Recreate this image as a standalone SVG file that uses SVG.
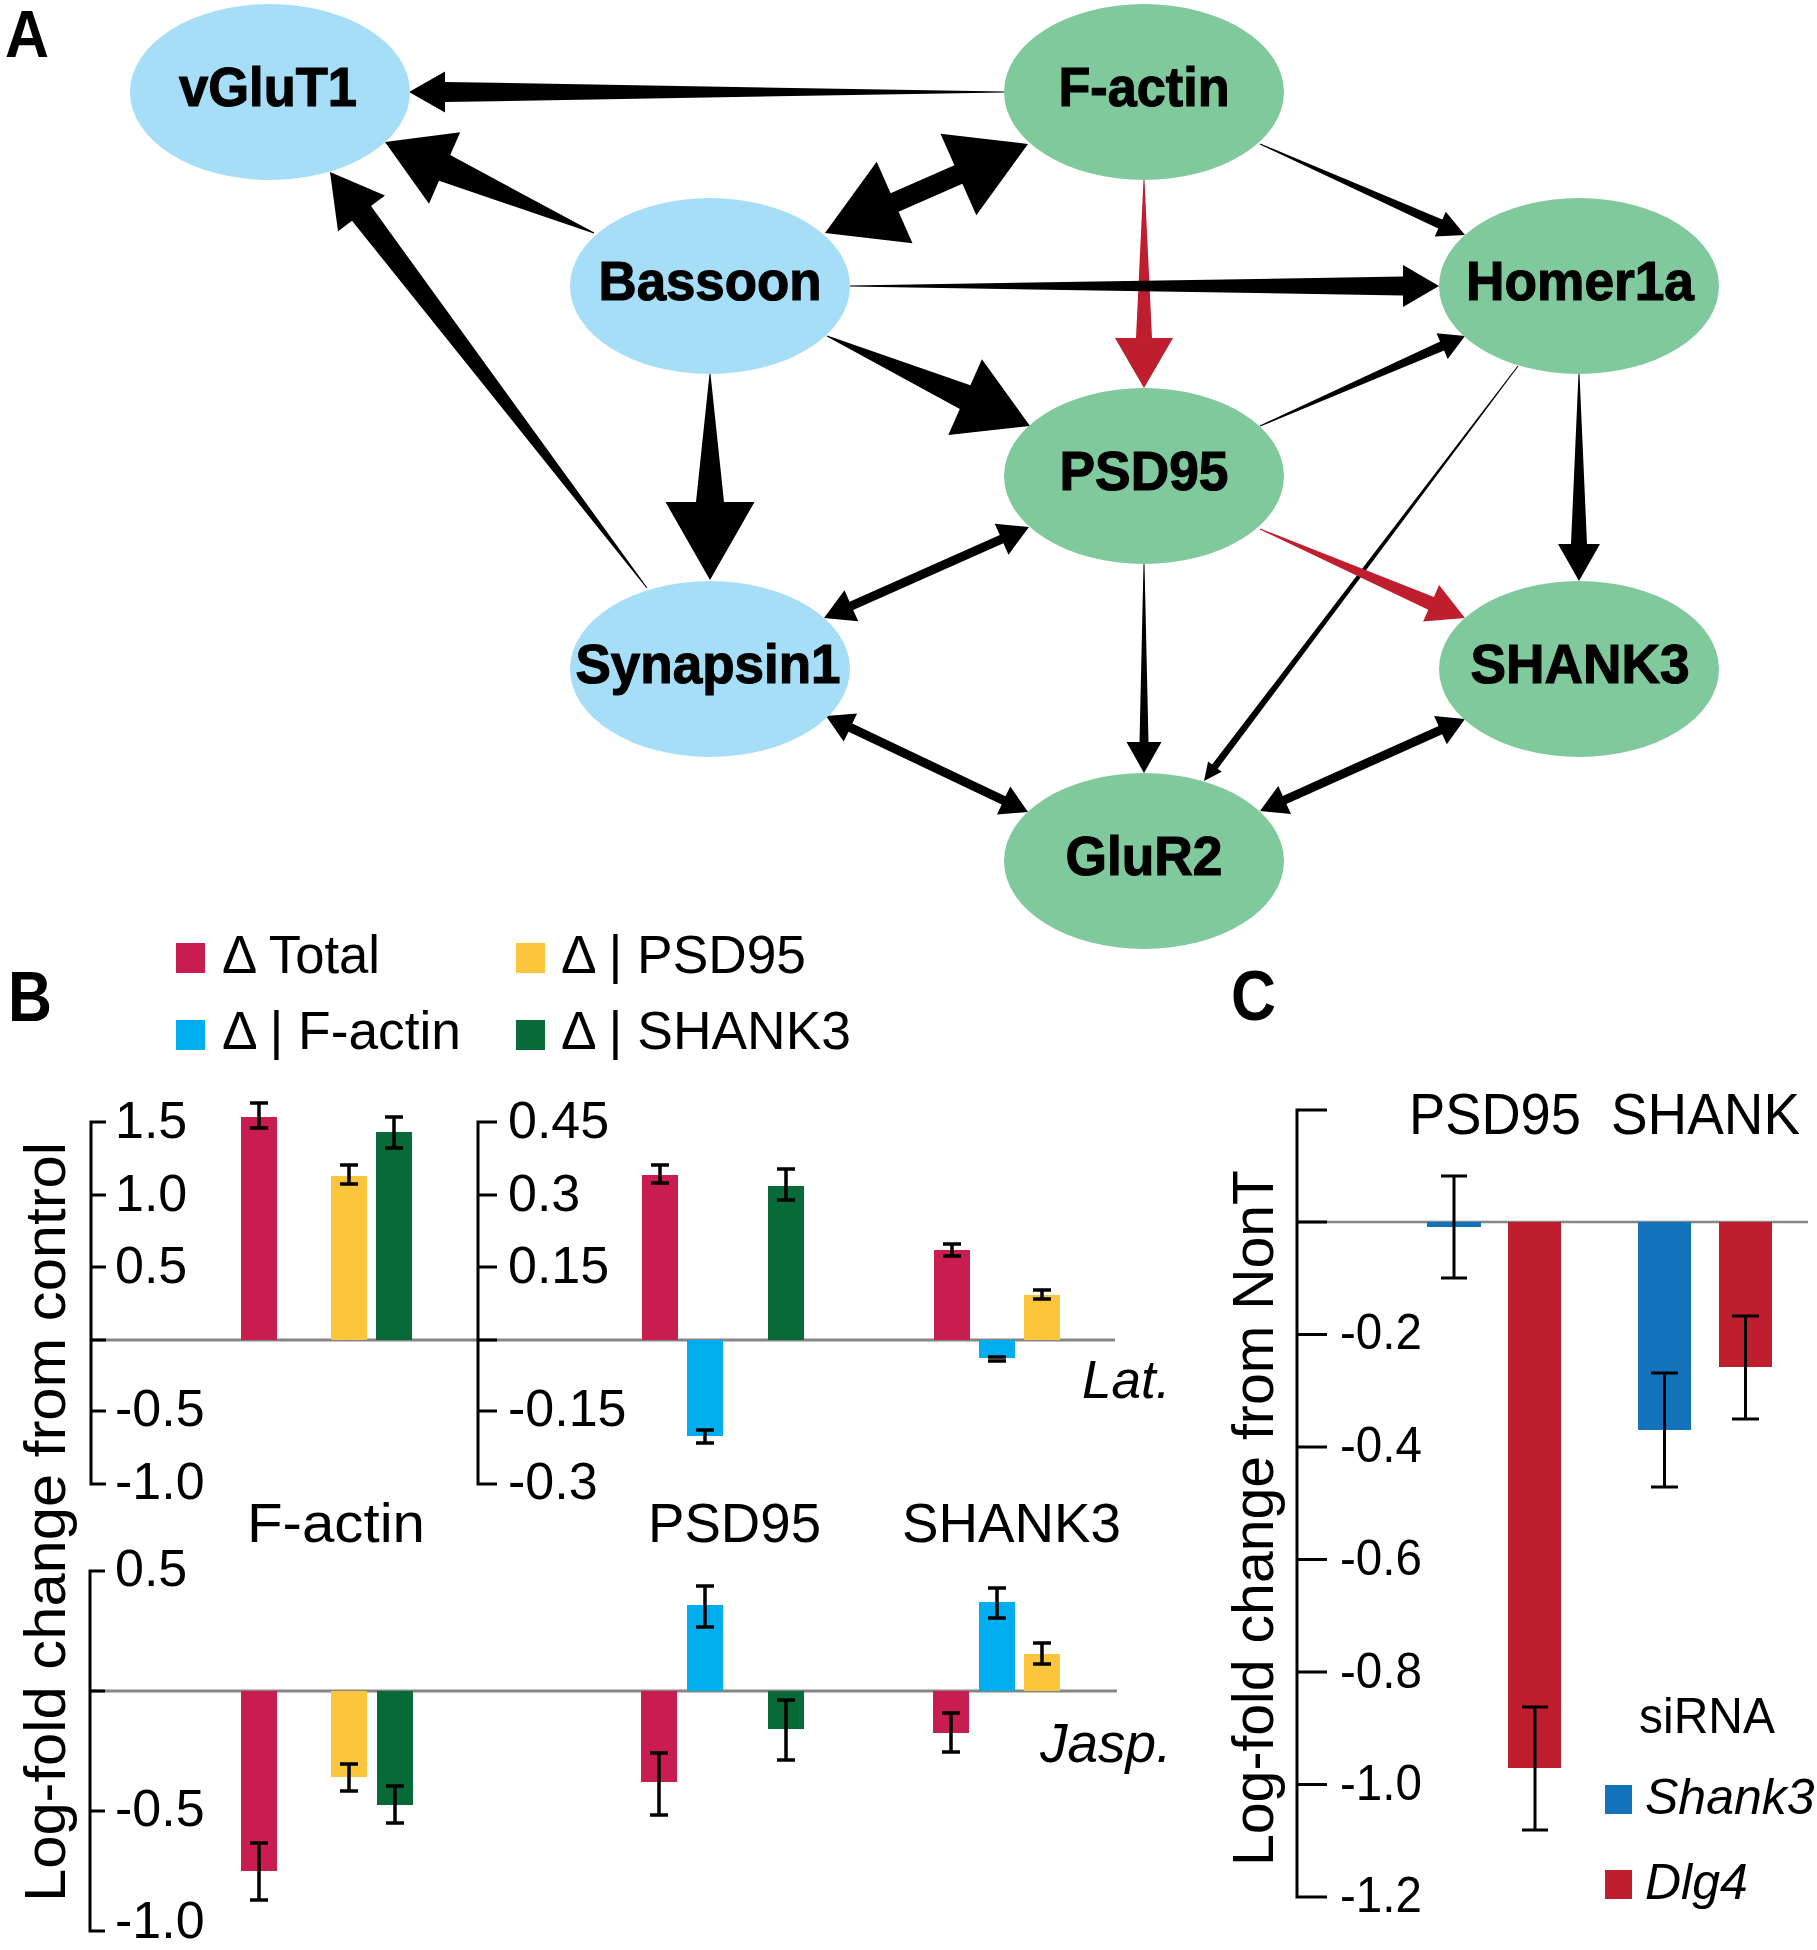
<svg xmlns="http://www.w3.org/2000/svg" width="1817" height="1950" viewBox="0 0 1817 1950">
<style>
.nb{fill:#A6DEF7}
.ng{fill:#80C99C}
.nl{font-family:"Liberation Sans",Arial,sans-serif;font-weight:bold;font-size:56px;fill:#000;stroke:#000;stroke-width:1.2;text-anchor:middle}
.pl{font-family:"Liberation Sans",Arial,sans-serif;font-weight:bold;fill:#000}
.t{font-family:"Liberation Sans",Arial,sans-serif;fill:#000}
.ax{stroke:#000;stroke-width:3;fill:none}
.zl{stroke:#858585;stroke-width:3;fill:none}
.eb{stroke:#000;stroke-width:3.5;fill:none}
.ebc{stroke:#000;stroke-width:3;fill:none}
.cR{fill:#C91D51}.cY{fill:#FCC63C}.cG{fill:#076A38}.cB{fill:#00AEEF}
.kB{fill:#1272BA}.kR{fill:#BE1E2D}
.e{fill:#000}.er{fill:#BE1E2D}
</style>
<rect width="1817" height="1950" fill="#fff"/>

<!-- Panel A -->
<text class="pl" x="5" y="57" font-size="66" textLength="44" lengthAdjust="spacingAndGlyphs">A</text>

<g id="connectors">
<polygon class="e" points="1004,92.5 445,102 445,112.5 409,92 445,71.5 445,82 1004,91.5"/>
<polygon class="e" points="594.2,232.5 450.2,155.1 460.2,132.2 385,142 429,203.7 439,180.8 593.8,233.5"/>
<polygon class="e" points="647.4,587.7 371,206.1 385,195.5 330,172 338,231.3 352,220.7 646.6,588.3"/>
<polygon class="e" points="825,233 912.5,243.3 898.6,211.7 962.4,183.7 976.3,215.3 1028,144 940.5,133.7 954.4,165.3 890.6,193.3 876.7,161.7"/>
<polygon class="er" points="1143.5,180 1136,338 1115,338 1144,388 1173,338 1152,338 1144.5,180"/>
<polygon class="e" points="1259.8,144.5 1438.3,228.6 1434.8,236.4 1465,235 1445.8,211.7 1442.3,219.5 1260.2,143.5"/>
<polygon class="e" points="850,285.5 1403,276.5 1403,265 1439,286 1403,307 1403,295.5 850,286.5"/>
<polygon class="e" points="826.8,336.5 959.8,409.1 948.3,435.1 1030,426 981.9,359.3 970.4,385.3 827.2,335.5"/>
<polygon class="e" points="709.5,374 696,502 665.5,502 710,580 754.5,502 724,502 710.5,374"/>
<polygon class="e" points="1260.2,426.5 1444.1,350.6 1447.7,358.9 1465,336 1436.5,333.2 1440.1,341.5 1259.8,425.5"/>
<polygon class="e" points="1578.5,374 1571,544 1558,544 1579,581 1600,544 1587,544 1579.5,374"/>
<polygon class="e" points="1517.6,365.7 1212.1,764.5 1208.1,761.5 1204,781 1221.7,771.7 1217.7,768.7 1518.4,366.3"/>
<polygon class="er" points="1259.8,529.5 1428.3,609.7 1423.1,621.6 1465,618 1439.1,585 1433.9,596.9 1260.2,528.5"/>
<polygon class="e" points="1143.5,564 1139.5,742 1126.5,742 1144,773 1161.5,742 1148.5,742 1144.5,564"/>
<polygon class="e" points="824,618 858.3,621.3 853.2,609.9 1003.4,543.3 1008.5,554.7 1029,527 994.7,523.7 999.8,535.1 849.6,601.7 844.5,590.3"/>
<polygon class="e" points="826,716 843.7,741.6 848.5,731.7 1001.7,804.5 997,814.4 1028,812 1010.3,786.4 1005.5,796.3 852.3,723.5 857.1,713.6"/>
<polygon class="e" points="1260,811 1291,814.1 1286.4,804.1 1442.2,734.2 1446.8,744.2 1465,719 1434.1,715.9 1438.6,725.9 1282.8,795.9 1278.3,785.9"/>
</g>

<g id="node-vGluT1"><ellipse class="nb" cx="270" cy="92" rx="140" ry="88"/><text class="nl" x="268" y="106" textLength="178" lengthAdjust="spacingAndGlyphs">vGluT1</text></g>
<g id="node-F-actin"><ellipse class="ng" cx="1144" cy="92" rx="140" ry="88"/><text class="nl" x="1144" y="106" textLength="171" lengthAdjust="spacingAndGlyphs">F-actin</text></g>
<g id="node-Bassoon"><ellipse class="nb" cx="710" cy="286" rx="140" ry="88"/><text class="nl" x="710" y="300" textLength="223" lengthAdjust="spacingAndGlyphs">Bassoon</text></g>
<g id="node-Homer1a"><ellipse class="ng" cx="1579" cy="286" rx="140" ry="88"/><text class="nl" x="1580" y="300" textLength="228" lengthAdjust="spacingAndGlyphs">Homer1a</text></g>
<g id="node-PSD95"><ellipse class="ng" cx="1144" cy="476" rx="140" ry="88"/><text class="nl" x="1144" y="490" textLength="169" lengthAdjust="spacingAndGlyphs">PSD95</text></g>
<g id="node-Synapsin1"><ellipse class="nb" cx="710" cy="669" rx="140" ry="88"/><text class="nl" x="708" y="683" textLength="265" lengthAdjust="spacingAndGlyphs">Synapsin1</text></g>
<g id="node-SHANK3"><ellipse class="ng" cx="1579" cy="669" rx="140" ry="88"/><text class="nl" x="1580" y="683" textLength="219" lengthAdjust="spacingAndGlyphs">SHANK3</text></g>
<g id="node-GluR2"><ellipse class="ng" cx="1144" cy="861" rx="140" ry="88"/><text class="nl" x="1144" y="875" textLength="157" lengthAdjust="spacingAndGlyphs">GluR2</text></g>

<!-- Panel B -->
<g id="panel-B">
<text class="pl" x="8" y="1021" font-size="70" textLength="44" lengthAdjust="spacingAndGlyphs">B</text>
<rect class="cR" x="176" y="943" width="29" height="30"/>
<text class="t" x="222" y="973" font-size="54" textLength="158" lengthAdjust="spacingAndGlyphs">Δ Total</text>
<rect class="cY" x="516" y="943" width="29" height="30"/>
<text class="t" x="561" y="973" font-size="54" textLength="245" lengthAdjust="spacingAndGlyphs">Δ | PSD95</text>
<rect class="cB" x="176" y="1020" width="29" height="30"/>
<text class="t" x="222" y="1049" font-size="54" textLength="239" lengthAdjust="spacingAndGlyphs">Δ | F-actin</text>
<rect class="cG" x="516" y="1020" width="29" height="30"/>
<text class="t" x="561" y="1049" font-size="54" textLength="290" lengthAdjust="spacingAndGlyphs">Δ | SHANK3</text>

<text class="t" transform="rotate(-90)" x="-1522" y="65" font-size="58" text-anchor="middle" textLength="760" lengthAdjust="spacingAndGlyphs">Log-fold change from control</text>

<!-- zero lines -->
<line class="zl" x1="91" y1="1340" x2="1115" y2="1340"/>
<line class="zl" x1="90" y1="1691" x2="1117" y2="1691"/>

<!-- upper left axis -->
<path class="ax" d="M106,1122H91V1484H106M91,1195H106M91,1267H106M91,1340H106M91,1411H106"/>
<g class="t" font-size="52">
<text x="115" y="1138">1.5</text>
<text x="115" y="1211">1.0</text>
<text x="115" y="1283">0.5</text>
<text x="115" y="1426">-0.5</text>
<text x="115" y="1499">-1.0</text>
</g>
<!-- upper right axis -->
<path class="ax" d="M497,1122H478V1484H497M478,1195H497M478,1267H497M478,1340H497M478,1411H497"/>
<g class="t" font-size="52">
<text x="508" y="1138">0.45</text>
<text x="508" y="1211">0.3</text>
<text x="508" y="1283">0.15</text>
<text x="508" y="1426">-0.15</text>
<text x="508" y="1499">-0.3</text>
</g>
<!-- lower axis -->
<path class="ax" d="M105,1571H90V1931H105M90,1691H105M90,1811H105"/>
<g class="t" font-size="52">
<text x="115" y="1586">0.5</text>
<text x="115" y="1826">-0.5</text>
<text x="115" y="1938">-1.0</text>
</g>

<text class="t" x="247" y="1542" font-size="56" textLength="178" lengthAdjust="spacingAndGlyphs">F-actin</text>
<text class="t" x="648" y="1542" font-size="56" textLength="173" lengthAdjust="spacingAndGlyphs">PSD95</text>
<text class="t" x="902" y="1542" font-size="56" textLength="219" lengthAdjust="spacingAndGlyphs">SHANK3</text>
<text class="t" x="1082" y="1398" font-size="53" font-style="italic">Lat.</text>
<text class="t" x="1040" y="1762" font-size="55" font-style="italic">Jasp.</text>

<!-- upper bars -->
<rect class="cR" x="241" y="1117" width="36" height="223"/>
<rect class="cY" x="331" y="1176" width="36" height="164"/>
<rect class="cG" x="376" y="1132" width="36" height="208"/>
<rect class="cR" x="642" y="1175" width="36" height="165"/>
<rect class="cB" x="687" y="1340" width="36" height="96"/>
<rect class="cG" x="768" y="1186" width="36" height="154"/>
<rect class="cR" x="934" y="1250" width="36" height="90"/>
<rect class="cB" x="979" y="1340" width="36" height="18"/>
<rect class="cY" x="1024" y="1295" width="36" height="45"/>
<!-- lower bars -->
<rect class="cR" x="241" y="1691" width="36" height="180"/>
<rect class="cY" x="331" y="1691" width="36" height="86"/>
<rect class="cG" x="377" y="1691" width="36" height="114"/>
<rect class="cR" x="641" y="1691" width="36" height="91"/>
<rect class="cB" x="687" y="1605" width="36" height="86"/>
<rect class="cG" x="768" y="1691" width="36" height="38"/>
<rect class="cR" x="933" y="1691" width="36" height="42"/>
<rect class="cB" x="979" y="1602" width="36" height="89"/>
<rect class="cY" x="1024" y="1654" width="36" height="37"/>

<!-- error bars -->
<path class="eb" d="M259,1103V1128M250,1103H268M250,1128H268
M349,1165V1184M340,1165H358M340,1184H358
M394,1117V1148M385,1117H403M385,1148H403
M660,1165V1183M651,1165H669M651,1183H669
M705,1430V1443M696,1430H714M696,1443H714
M786,1169V1200M777,1169H795M777,1200H795
M952,1244V1256M943,1244H961M943,1256H961
M988,1357H1006M988,1361H1006
M1042,1290V1299M1033,1290H1051M1033,1299H1051
M259,1843V1900M250,1843H268M250,1900H268
M349,1764V1791M340,1764H358M340,1791H358
M395,1786V1823M386,1786H404M386,1823H404
M659,1753V1815M650,1753H668M650,1815H668
M705,1586V1627M696,1586H714M696,1627H714
M786,1700V1760M777,1700H795M777,1760H795
M951,1713V1752M942,1713H960M942,1752H960
M997,1588V1618M988,1588H1006M988,1618H1006
M1042,1643V1664M1033,1643H1051M1033,1664H1051"/>
</g>

<!-- Panel C -->
<g id="panel-C">
<text class="pl" x="1231" y="1020" font-size="70" textLength="45" lengthAdjust="spacingAndGlyphs">C</text>
<text class="t" x="1409" y="1134" font-size="58" textLength="172" lengthAdjust="spacingAndGlyphs">PSD95</text>
<text class="t" x="1611" y="1134" font-size="58" textLength="189" lengthAdjust="spacingAndGlyphs">SHANK</text>
<text class="t" transform="rotate(-90)" x="-1518" y="1273" font-size="57" text-anchor="middle" textLength="696" lengthAdjust="spacingAndGlyphs">Log-fold change from NonT</text>

<line class="zl" x1="1297" y1="1222" x2="1808" y2="1222" style="stroke-width:2.5"/>
<path class="ax" d="M1327,1110H1297V1897H1327M1297,1222H1327M1297,1334.5H1327M1297,1447H1327M1297,1559.5H1327M1297,1672H1327M1297,1784.5H1327"/>
<g class="t" font-size="50">
<text x="1340" y="1349" textLength="82" lengthAdjust="spacingAndGlyphs">-0.2</text>
<text x="1340" y="1462" textLength="82" lengthAdjust="spacingAndGlyphs">-0.4</text>
<text x="1340" y="1575" textLength="82" lengthAdjust="spacingAndGlyphs">-0.6</text>
<text x="1340" y="1688" textLength="82" lengthAdjust="spacingAndGlyphs">-0.8</text>
<text x="1340" y="1800" textLength="82" lengthAdjust="spacingAndGlyphs">-1.0</text>
<text x="1340" y="1912" textLength="82" lengthAdjust="spacingAndGlyphs">-1.2</text>
</g>

<rect class="kB" x="1427" y="1222" width="54" height="5"/>
<rect class="kR" x="1508" y="1222" width="53" height="546"/>
<rect class="kB" x="1638" y="1222" width="53" height="208"/>
<rect class="kR" x="1719" y="1222" width="53" height="145"/>
<path class="ebc" d="M1454,1176V1278M1441,1176H1467M1441,1278H1467
M1535,1707V1830M1522,1707H1548M1522,1830H1548
M1664.5,1373V1487M1651,1373H1678M1651,1487H1678
M1745.5,1316V1419M1732,1316H1759M1732,1419H1759"/>

<text class="t" x="1639" y="1733" font-size="50" textLength="136" lengthAdjust="spacingAndGlyphs">siRNA</text>
<rect class="kB" x="1605" y="1785" width="27" height="29"/>
<text class="t" x="1645" y="1814" font-size="50" font-style="italic">Shank3</text>
<rect class="kR" x="1605" y="1870" width="27" height="29"/>
<text class="t" x="1645" y="1899" font-size="50" font-style="italic">Dlg4</text>
</g>
</svg>
